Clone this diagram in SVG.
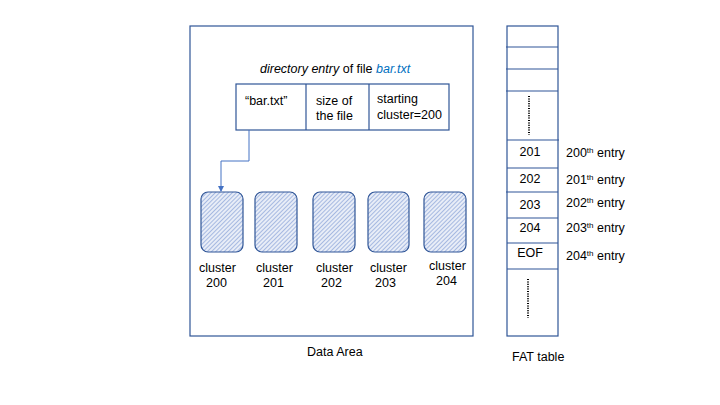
<svg xmlns="http://www.w3.org/2000/svg" width="720" height="405" viewBox="0 0 720 405">
<style>
text{font-family:"Liberation Sans",Arial,sans-serif;font-size:12.5px;fill:#000}
.box{fill:none;stroke:#2F5597;stroke-width:1.2}
.ln{stroke:#2F5597;stroke-width:1.2}
.cl{fill:url(#hatch);stroke:#2F5597;stroke-width:1.2}
.sup{font-size:8px}
.mid{text-anchor:middle}
.dots{stroke:#000;stroke-width:2;stroke-dasharray:1 1.4}
</style>
<defs>
<pattern id="hatch" patternUnits="userSpaceOnUse" width="3" height="3" patternTransform="rotate(45)">
<rect width="3" height="3" fill="#E8EDF7"/>
<line x1="0" y1="0" x2="0" y2="3" stroke="#6F8ED0" stroke-width="1.1"/>
</pattern>
<marker id="arr" markerWidth="6" markerHeight="6" refX="5" refY="3" orient="auto" markerUnits="userSpaceOnUse">
<path d="M0,0 L6,3 L0,6 z" fill="#4472C4"/>
</marker>
</defs>

<g id="data-area">
<rect class="box" x="190" y="26" width="283" height="310"/>
<text x="307" y="356">Data Area</text>
</g>

<g id="directory-entry">
<text x="260" y="73"><tspan font-style="italic">directory entry</tspan> of file <tspan font-style="italic" fill="#0070C0">bar.txt</tspan></text>
<rect class="box" x="236" y="84" width="213" height="46"/>
<line class="ln" x1="306" y1="84" x2="306" y2="130"/>
<line class="ln" x1="369" y1="84" x2="369" y2="130"/>
<text x="245" y="105">“bar.txt”</text>
<text x="316" y="105">size of</text>
<text x="316" y="120">the file</text>
<text x="377" y="103">starting</text>
<text x="377" y="119">cluster=200</text>
</g>

<g id="cluster-200">
<rect class="cl" x="201" y="192" width="42" height="60" rx="7"/>
<text x="199" y="272">cluster</text>
<text x="206" y="287">200</text>
</g>
<g id="cluster-201">
<rect class="cl" x="255" y="192" width="42" height="60" rx="7"/>
<text x="256" y="272">cluster</text>
<text x="263" y="287">201</text>
</g>
<g id="cluster-202">
<rect class="cl" x="313" y="192" width="42" height="60" rx="7"/>
<text x="316" y="272">cluster</text>
<text x="321" y="287">202</text>
</g>
<g id="cluster-203">
<rect class="cl" x="368" y="192" width="41" height="60" rx="7"/>
<text x="370" y="272">cluster</text>
<text x="375" y="287">203</text>
</g>
<g id="cluster-204">
<rect class="cl" x="424" y="192" width="42" height="60" rx="7"/>
<text x="429" y="270">cluster</text>
<text x="436" y="285">204</text>
</g>

<g id="fat-table">
<rect class="box" x="507" y="26" width="51" height="310"/>
<line class="ln" x1="506" y1="47" x2="558" y2="47"/>
<line class="ln" x1="506" y1="69" x2="558" y2="69"/>
<line class="ln" x1="506" y1="91" x2="558" y2="91"/>
<line class="ln" x1="507" y1="140" x2="559" y2="140"/>
<line class="ln" x1="507" y1="168" x2="558" y2="168"/>
<line class="ln" x1="506" y1="192" x2="558" y2="192"/>
<line class="ln" x1="507" y1="218" x2="558" y2="218"/>
<line class="ln" x1="507" y1="243" x2="558" y2="243"/>
<line class="ln" x1="507" y1="269" x2="558" y2="269"/>
<line class="dots" x1="529" y1="96" x2="529" y2="135"/>
<line class="dots" x1="528" y1="279" x2="528" y2="318"/>
<text class="mid" x="530" y="156">201</text>
<text class="mid" x="530" y="183">202</text>
<text class="mid" x="530" y="209">203</text>
<text class="mid" x="530" y="232">204</text>
<text class="mid" x="530" y="257">EOF</text>
<text x="566" y="157">200<tspan class="sup" dy="-4.5">th</tspan><tspan dy="4.5"> entry</tspan></text>
<text x="566" y="184">201<tspan class="sup" dy="-4.5">th</tspan><tspan dy="4.5"> entry</tspan></text>
<text x="566" y="207">202<tspan class="sup" dy="-4.5">th</tspan><tspan dy="4.5"> entry</tspan></text>
<text x="566" y="232">203<tspan class="sup" dy="-4.5">th</tspan><tspan dy="4.5"> entry</tspan></text>
<text x="566" y="260">204<tspan class="sup" dy="-4.5">th</tspan><tspan dy="4.5"> entry</tspan></text>
<text x="512" y="361">FAT table</text>
</g>

<g id="connectors">
<polyline points="249,130 249,161 221,161 221,191" fill="none" stroke="#4472C4" stroke-width="1" marker-end="url(#arr)"/>
</g>
</svg>
